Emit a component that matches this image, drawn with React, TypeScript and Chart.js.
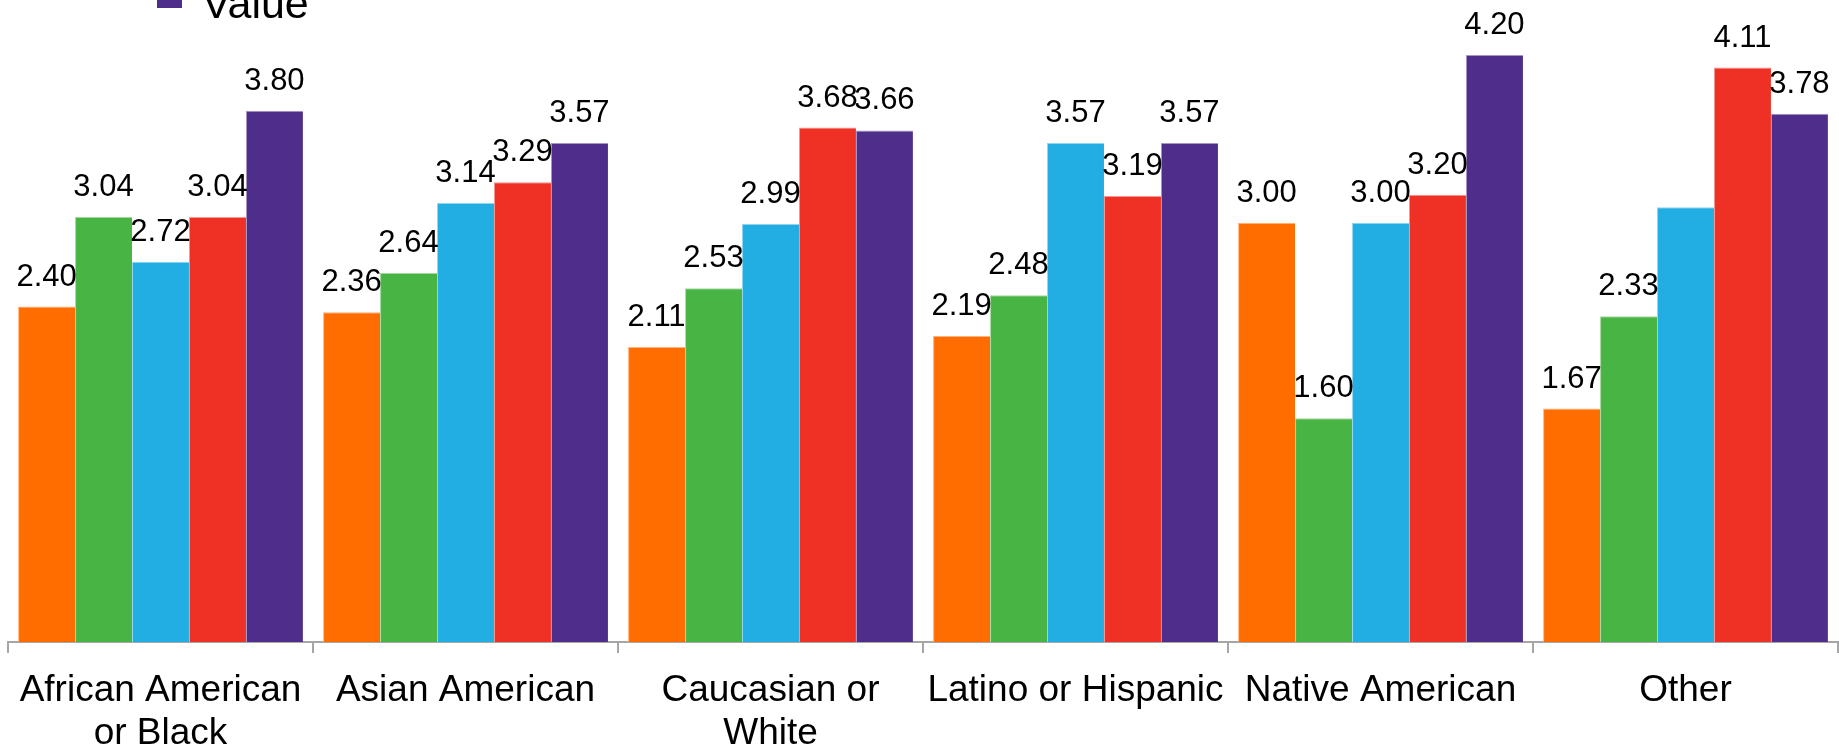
import React, { useEffect, useRef } from "react";
import { Chart, registerables } from "chart.js";

Chart.register(...registerables);

// ---------- data ----------
const categories: string[][] = [
  ["African American", "or Black"],
  ["Asian American"],
  ["Caucasian or", "White"],
  ["Latino or Hispanic"],
  ["Native American"],
  ["Other"],
];
const seriesNames = ["Series 1", "Series 2", "Series 3", "Series 4", "Value"];
const orangeValues = [2.4, 2.36, 2.11, 2.19, 3.0, 1.67];
const greenValues = [3.04, 2.64, 2.53, 2.48, 1.6, 2.33];
const blueValues = [2.72, 3.14, 2.99, 3.57, 3.0, 3.11];
const redValues = [3.04, 3.29, 3.68, 3.19, 3.2, 4.11];
const purpleValues = [3.8, 3.57, 3.66, 3.57, 4.2, 3.78];
// [seriesIndex, categoryIndex] whose value label is not shown in the reference
const hiddenValueLabels: number[][] = [[2, 5]];
const legendShown = ["Value"];

const colors = ["#FF6C00", "#48B444", "#23AEE3", "#EE3124", "#4F2D8B"];
const edgeColors = ["#FFB37F", "#A3D9A1", "#91D6F1", "#F69891", "#A796C5"];
const FONT = '"Liberation Sans", Arial, Helvetica, sans-serif';

const valueLabelPlugin = {
  id: "valueLabels",
  afterDatasetsDraw(chart: any) {
    const ctx = chart.ctx;
    ctx.save();
    ctx.font = `31px ${FONT}`;
    ctx.fillStyle = "#000";
    ctx.textAlign = "center";
    ctx.textBaseline = "alphabetic";
    chart.data.datasets.forEach((ds: any, di: number) => {
      const meta = chart.getDatasetMeta(di);
      meta.data.forEach((bar: any, i: number) => {
        if (hiddenValueLabels.some(([s, c]) => s === di && c === i)) return;
        const v = ds.data[i] as number;
        ctx.fillText(v.toFixed(2), bar.x, bar.y - 21);
      });
    });
    ctx.restore();
  },
};

const legendPlugin = {
  id: "croppedLegend",
  afterDraw(chart: any) {
    const ctx = chart.ctx;
    ctx.save();
    chart.data.datasets.forEach((ds: any) => {
      if (!legendShown.includes(ds.label)) return;
      ctx.fillStyle = ds.backgroundColor;
      ctx.fillRect(157, -17, 25, 25);
      ctx.font = `43px ${FONT}`;
      ctx.fillStyle = "#000";
      ctx.textAlign = "left";
      ctx.textBaseline = "alphabetic";
      ctx.fillText(ds.label, 202, 18);
    });
    ctx.restore();
  },
};

export default function App() {
  const canvasRef = useRef<HTMLCanvasElement | null>(null);

  useEffect(() => {
    if (!canvasRef.current) return;
    const seriesValues = [orangeValues, greenValues, blueValues, redValues, purpleValues];
    const chart = new Chart(canvasRef.current, {
      type: "bar",
      data: {
        labels: categories,
        datasets: seriesValues.map((vals, i) => ({
          label: seriesNames[i],
          data: vals,
          backgroundColor: colors[i],
          borderColor: edgeColors[i],
          borderWidth: { left: 1, top: 1, right: 0, bottom: 0 },
          categoryPercentage: 0.934,
          barPercentage: 1.0,
        })),
      },
      options: {
        animation: false,
        responsive: true,
        maintainAspectRatio: false,
        layout: { padding: { left: 8, right: 1, top: 13, bottom: 0 } },
        plugins: {
          legend: { display: false },
          tooltip: { enabled: false },
          title: { display: false },
        },
        scales: {
          x: {
            grid: {
              display: true,
              drawOnChartArea: false,
              drawTicks: true,
              tickLength: 11,
              color: "#A6A6A6",
              lineWidth: 2,
              offset: true,
            },
            border: { display: true, color: "#A6A6A6", width: 2 },
            ticks: {
              color: "#000",
              padding: 16,
              autoSkip: false,
              maxRotation: 0,
              minRotation: 0,
              font: { family: FONT, size: 37, lineHeight: 1.162 },
            },
          },
          y: {
            display: false,
            min: 0,
            max: 4.5,
          },
        },
      },
      plugins: [valueLabelPlugin, legendPlugin],
    });
    return () => chart.destroy();
  }, []);

  return (
    <div
      style={{
        position: "absolute",
        left: 0,
        top: 0,
        width: 1839,
        height: 747,
        overflow: "hidden",
        background: "#fff",
      }}
    >
      <div style={{ position: "absolute", left: 0, top: 0, width: 1839, height: 771 }}>
        <canvas ref={canvasRef} />
      </div>
    </div>
  );
}
